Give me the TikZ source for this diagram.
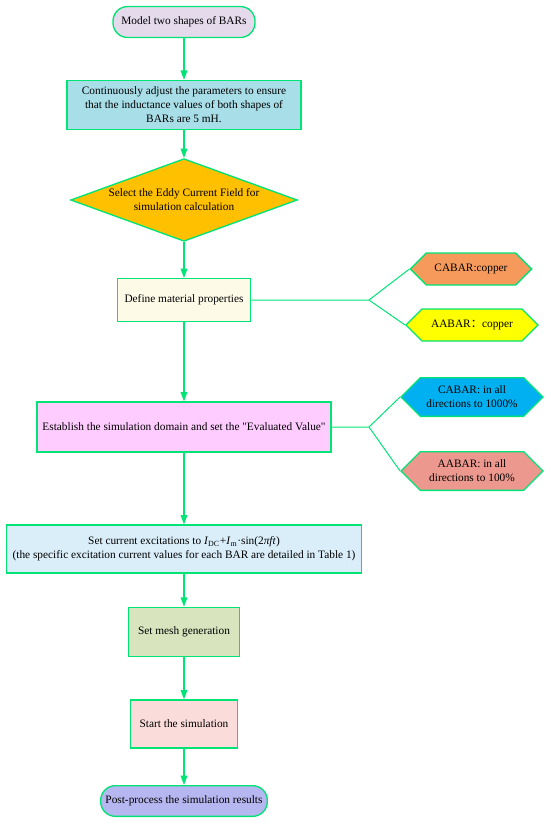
\documentclass[tikz,border=0pt]{standalone}
\usepackage{fontspec}
\setmainfont{Liberation Serif}
\newfontfamily\rawserif{Liberation Serif}
\newfontfamily\cjk{Noto Sans CJK SC}
\usetikzlibrary{arrows.meta,shapes.geometric,shapes.symbols}

\definecolor{lineGreen}{RGB}{0,228,118}
\definecolor{fillLavender}{RGB}{228,218,236}
\definecolor{fillCyan}{RGB}{168,222,232}
\definecolor{fillAmber}{RGB}{255,192,0}
\definecolor{fillCream}{RGB}{253,250,232}
\definecolor{fillOrange}{RGB}{246,154,92}
\definecolor{fillYellow}{RGB}{255,255,0}
\definecolor{fillPink}{RGB}{255,204,255}
\definecolor{fillSky}{RGB}{0,176,240}
\definecolor{fillSalmon}{RGB}{236,152,142}
\definecolor{fillIce}{RGB}{218,238,250}
\definecolor{fillOlive}{RGB}{215,228,189}
\definecolor{fillRose}{RGB}{250,220,218}
\definecolor{fillPeri}{RGB}{182,182,240}

\tikzset{every picture/.style={line width=0.75pt}}
\tikzset{
  flowbox/.style={draw=lineGreen, line width=1pt, align=center, inner sep=0.75pt, font=\fontsize{8.5}{10.5}\selectfont},
  pillbox/.style={flowbox, rounded corners=11pt},
  hexbox/.style={flowbox, signal, signal to=west and east, signal pointer angle=90},
  flowarrow/.style={draw=lineGreen, line width=1pt, -{Triangle[length=7pt,width=5pt]}},
  flowline/.style={draw=lineGreen, line width=0.75pt},
}

\begin{document}
\begin{tikzpicture}[x=0.75pt,y=0.75pt,yscale=-1,xscale=1]
\useasboundingbox (0,0) rectangle (550,824);

%Shape: Rounded Rect
\node [pillbox, fill=fillLavender, minimum width=106.5pt, minimum height=23.25pt] (model) at (184,22) {Model two shapes of BARs};
%Shape: Rectangle
\node [flowbox, fill=fillCyan, minimum width=175.5pt, minimum height=36.75pt] (adjust) at (184,105) {Continuously adjust the parameters to ensure\\that the inductance values of both shapes of\\BARs are 5 mH.};
%Shape: Diamond
\node [flowbox, diamond, aspect=2.7, inner sep=0pt, fill=fillAmber, minimum width=170pt, minimum height=62pt] (field) at (184,200) {Select the Eddy Current Field for\\simulation calculation};
%Shape: Rectangle
\node [flowbox, fill=fillCream, minimum width=100pt, minimum height=32pt] (material) at (184,300) {Define material properties};
%Shape: Hexagon
\node [hexbox, fill=fillOrange, minimum width=91pt, minimum height=24pt] (cucab) at (471,269) {CABAR:copper};
%Shape: Hexagon
\node [hexbox, fill=fillYellow, minimum width=99pt, minimum height=24pt] (cuaab) at (472,325) {AABAR{\cjk ：}copper};
%Shape: Rectangle
\node [flowbox, fill=fillPink, minimum width=220.5pt, minimum height=37.5pt] (domain) at (184,427) {Establish the simulation domain and set the {\rawserif "}Evaluated Value{\rawserif "}};
%Shape: Hexagon
\node [hexbox, fill=fillSky, minimum width=106.5pt, minimum height=29pt] (evcab) at (472,397) {CABAR: in all\\directions to 1000\%};
%Shape: Hexagon
\node [hexbox, fill=fillSalmon, minimum width=106.5pt, minimum height=29pt] (evaab) at (472,471) {AABAR: in all\\directions to 100\%};
%Shape: Rectangle
\node [flowbox, fill=fillIce, minimum width=266pt, minimum height=36pt] (excite) at (184,549) {Set current excitations to \textit{I}\textsubscript{DC}+\textit{I}\textsubscript{m}·sin(2\textit{πft})\\(the specific excitation current values for each BAR are detailed in Table 1)};
%Shape: Rectangle
\node [flowbox, fill=fillOlive, minimum width=83pt, minimum height=37pt] (mesh) at (184,632) {Set mesh generation};
%Shape: Rectangle
\node [flowbox, fill=fillRose, minimum width=80pt, minimum height=36pt] (start) at (184,724) {Start the simulation};
%Shape: Rounded Rect
\node [pillbox, fill=fillPeri, minimum width=125pt, minimum height=23pt] (post) at (184,801) {Post-process the simulation results};

%Branch points
\coordinate (fork1) at (369,300);
\coordinate (fork2) at (369,427);

%Straight Lines
\draw [flowarrow] (model) -- (adjust);
\draw [flowarrow] (adjust) -- (field);
\draw [flowarrow] (field) -- (material);
\draw [flowarrow] (material) -- (domain);
\draw [flowarrow] (domain) -- (excite);
\draw [flowarrow] (excite) -- (mesh);
\draw [flowarrow] (mesh) -- (start);
\draw [flowarrow] (start) -- (post);
%Branch Lines
\draw [flowline] (material.east) -- (fork1) -- (cucab.west);
\draw [flowline] (fork1) -- (cuaab.west);
\draw [flowline] (domain.east) -- (fork2) -- (evcab.west);
\draw [flowline] (fork2) -- (evaab.west);

\end{tikzpicture}
\end{document}
